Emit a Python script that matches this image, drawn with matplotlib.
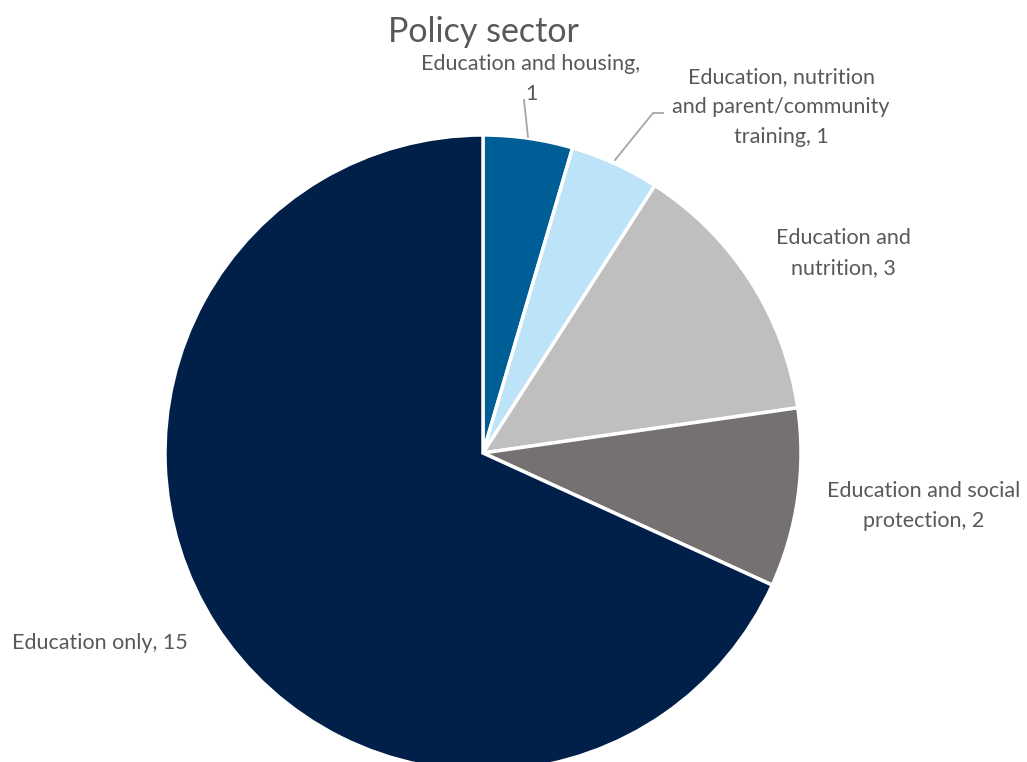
import matplotlib.pyplot as plt

labels = ['Education and housing', 'Education, nutrition and parent/community training',
          'Education and nutrition', 'Education and social protection', 'Education only']
values = [1, 1, 3, 2, 15]
colors = ['#005E97', '#BDE3F9', '#BFBFBF', '#767171', '#00204A']
label_text = ['Education and housing,\n1',
              'Education, nutrition\nand parent/community\ntraining, 1',
              'Education and\nnutrition, 3',
              'Education and social\nprotection, 2',
              'Education only, 15']

W, H = 1027, 762
plt.rcParams['font.family'] = ['Lato', 'DejaVu Sans']
fig = plt.figure(figsize=(W / 100, H / 100), dpi=100)
ax = fig.add_axes([0, 0, 1, 1])

cx, cy, r = 483, H - 453, 318
ax.pie(values, colors=colors, startangle=90, counterclock=False,
       center=(cx, cy), radius=r, frame=True,
       wedgeprops=dict(edgecolor='white', linewidth=2.5))
ax.set_xlim(0, W)
ax.set_ylim(0, H)
ax.set_aspect('equal')
ax.axis('off')

tc = '#595959'
ax.text(483, H - 32, 'Policy sector', ha='center', va='center', fontsize=24.5, color=tc)

# label positions (pixel coords from top)
pos = [(531, 79, 'center'), (781, 107, 'center'), (843, 253, 'center'),
       (924, 506, 'center'), (12, 643, 'left')]
for t, (x, y, ha) in zip(label_text, pos):
    ax.text(x, H - y, t, ha=ha, va='center', fontsize=15.5, color=tc,
            linespacing=1.62, multialignment='center')

# leader lines
ax.plot([524, 528], [H - 100, H - 137], color='#A6A6A6', lw=1.3)
ax.plot([663, 653, 615], [H - 113, H - 113, H - 160], color='#A6A6A6', lw=1.3)

fig.savefig('out.png', dpi=100)
